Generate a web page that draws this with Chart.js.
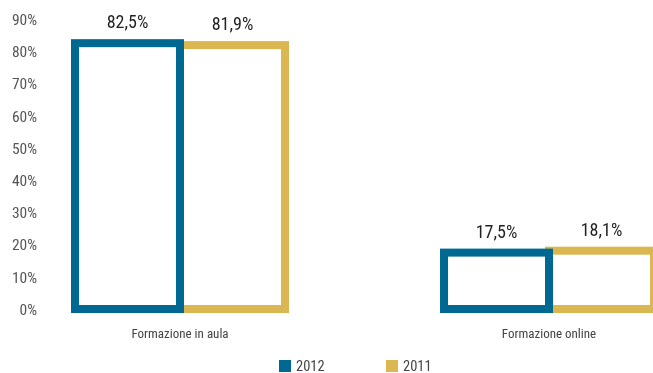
<!DOCTYPE html>
<html>
<head>
<meta charset="utf-8">
<script src="https://cdn.jsdelivr.net/npm/chart.js@4/dist/chart.umd.min.js"></script>
<style>
  html, body { margin: 0; padding: 0; background: #fff; }
  #wrap { position: relative; width: 653px; height: 373px; overflow: hidden; }
  #legend { position: absolute; left: 0; top: 0; width: 653px; height: 373px; pointer-events: none;
            font-family: "Roboto Condensed", "Liberation Sans", Arial, sans-serif; font-size: 14.5px; color: #444; }
  .sw { position: absolute; width: 12px; height: 12px; }
  .lt { position: absolute; line-height: 15px; }
</style>
</head>
<body>
<div id="wrap">
  <canvas id="chart" width="653" height="373"></canvas>
  <div id="legend"></div>
</div>
<script>
// Training modes, percentage of total
const categories = ['Formazione in aula', 'Formazione online'];
const seriesNames = ['2012', '2011'];
const values2012 = [82.5, 17.5];
const values2011 = [81.9, 18.1];
const yTickValues = [0, 10, 20, 30, 40, 50, 60, 70, 80, 90];

const BLUE = '#006891';
const GOLD = '#DBB752';
const FONT = '"Roboto Condensed", "Liberation Sans", Arial, sans-serif';

const fmt = v => v.toFixed(1).replace('.', ',') + '%';

// Outlined bars: stroke centred on the bar rectangle, then the value above it
const outlinePlugin = {
  id: 'outlinedBars',
  afterDatasetsDraw(chart) {
    const ctx = chart.ctx;
    const order = [1, 0]; // 2011 first so 2012 overlaps the shared edge
    ctx.save();
    order.forEach(di => {
      const ds = chart.data.datasets[di];
      const meta = chart.getDatasetMeta(di);
      meta.data.forEach(el => {
        const p = el.getProps(['x', 'y', 'base', 'width'], true);
        ctx.lineWidth = 8;
        ctx.lineJoin = 'miter';
        ctx.strokeStyle = ds.strokeColor;
        ctx.strokeRect(p.x - p.width / 2, p.y, p.width, p.base - p.y);
      });
    });
    order.forEach(di => {
      const ds = chart.data.datasets[di];
      const meta = chart.getDatasetMeta(di);
      meta.data.forEach((el, i) => {
        const p = el.getProps(['x', 'y'], true);
        ctx.fillStyle = '#222';
        ctx.font = '18px ' + FONT;
        ctx.textAlign = 'center';
        ctx.textBaseline = 'alphabetic';
        ctx.fillText(fmt(ds.data[i].y), p.x, p.y - 15);
      });
    });
    ctx.restore();
  }
};

const toPoints = arr => arr.map((v, i) => ({ x: i, y: v }));

new Chart(document.getElementById('chart'), {
  type: 'bar',
  data: {
    datasets: [
      { label: seriesNames[0], data: toPoints(values2012), strokeColor: BLUE,
        backgroundColor: 'rgba(0,0,0,0)', borderWidth: 0, barThickness: 105 },
      { label: seriesNames[1], data: toPoints(values2011), strokeColor: GOLD,
        backgroundColor: 'rgba(0,0,0,0)', borderWidth: 0, barThickness: 105 }
    ]
  },
  options: {
    responsive: false,
    animation: false,
    devicePixelRatio: 1,
    layout: { padding: { top: 19, left: 0, right: 0, bottom: 0 } },
    plugins: { legend: { display: false }, tooltip: { enabled: false } },
    scales: {
      x: {
        type: 'linear',
        offset: false,
        min: -0.3794,
        max: 1.2818,
        grid: { display: false, drawTicks: false },
        border: { display: false },
        afterBuildTicks: s => { s.ticks = categories.map((c, i) => ({ value: i })); },
        afterFit: s => { s.height = 64; },
        ticks: {
          autoSkip: false, maxRotation: 0, padding: 18,
          color: '#444', font: { family: FONT, size: 13 },
          callback: v => categories[v]
        }
      },
      y: {
        min: 0,
        max: 90,
        grid: { display: false, drawTicks: false },
        border: { display: false },
        afterBuildTicks: s => { s.ticks = yTickValues.map(v => ({ value: v })); },
        afterFit: s => { s.width = 40; },
        ticks: {
          padding: 3, labelOffset: 2, color: '#555', font: { family: FONT, size: 15.5 },
          callback: v => v + '%'
        }
      }
    }
  },
  plugins: [outlinePlugin]
});

// Legend
const legend = document.getElementById('legend');
const legendItems = [
  { name: seriesNames[0], color: BLUE, left: 279 },
  { name: seriesNames[1], color: GOLD, left: 386 }
];
legendItems.forEach(it => {
  const sw = document.createElement('div');
  sw.className = 'sw';
  sw.style.left = it.left + 'px';
  sw.style.top = '360px';
  sw.style.background = it.color;
  legend.appendChild(sw);
  const t = document.createElement('div');
  t.className = 'lt';
  t.style.left = (it.left + 17) + 'px';
  t.style.top = '359px';
  t.textContent = it.name;
  legend.appendChild(t);
});
</script>
</body>
</html>
